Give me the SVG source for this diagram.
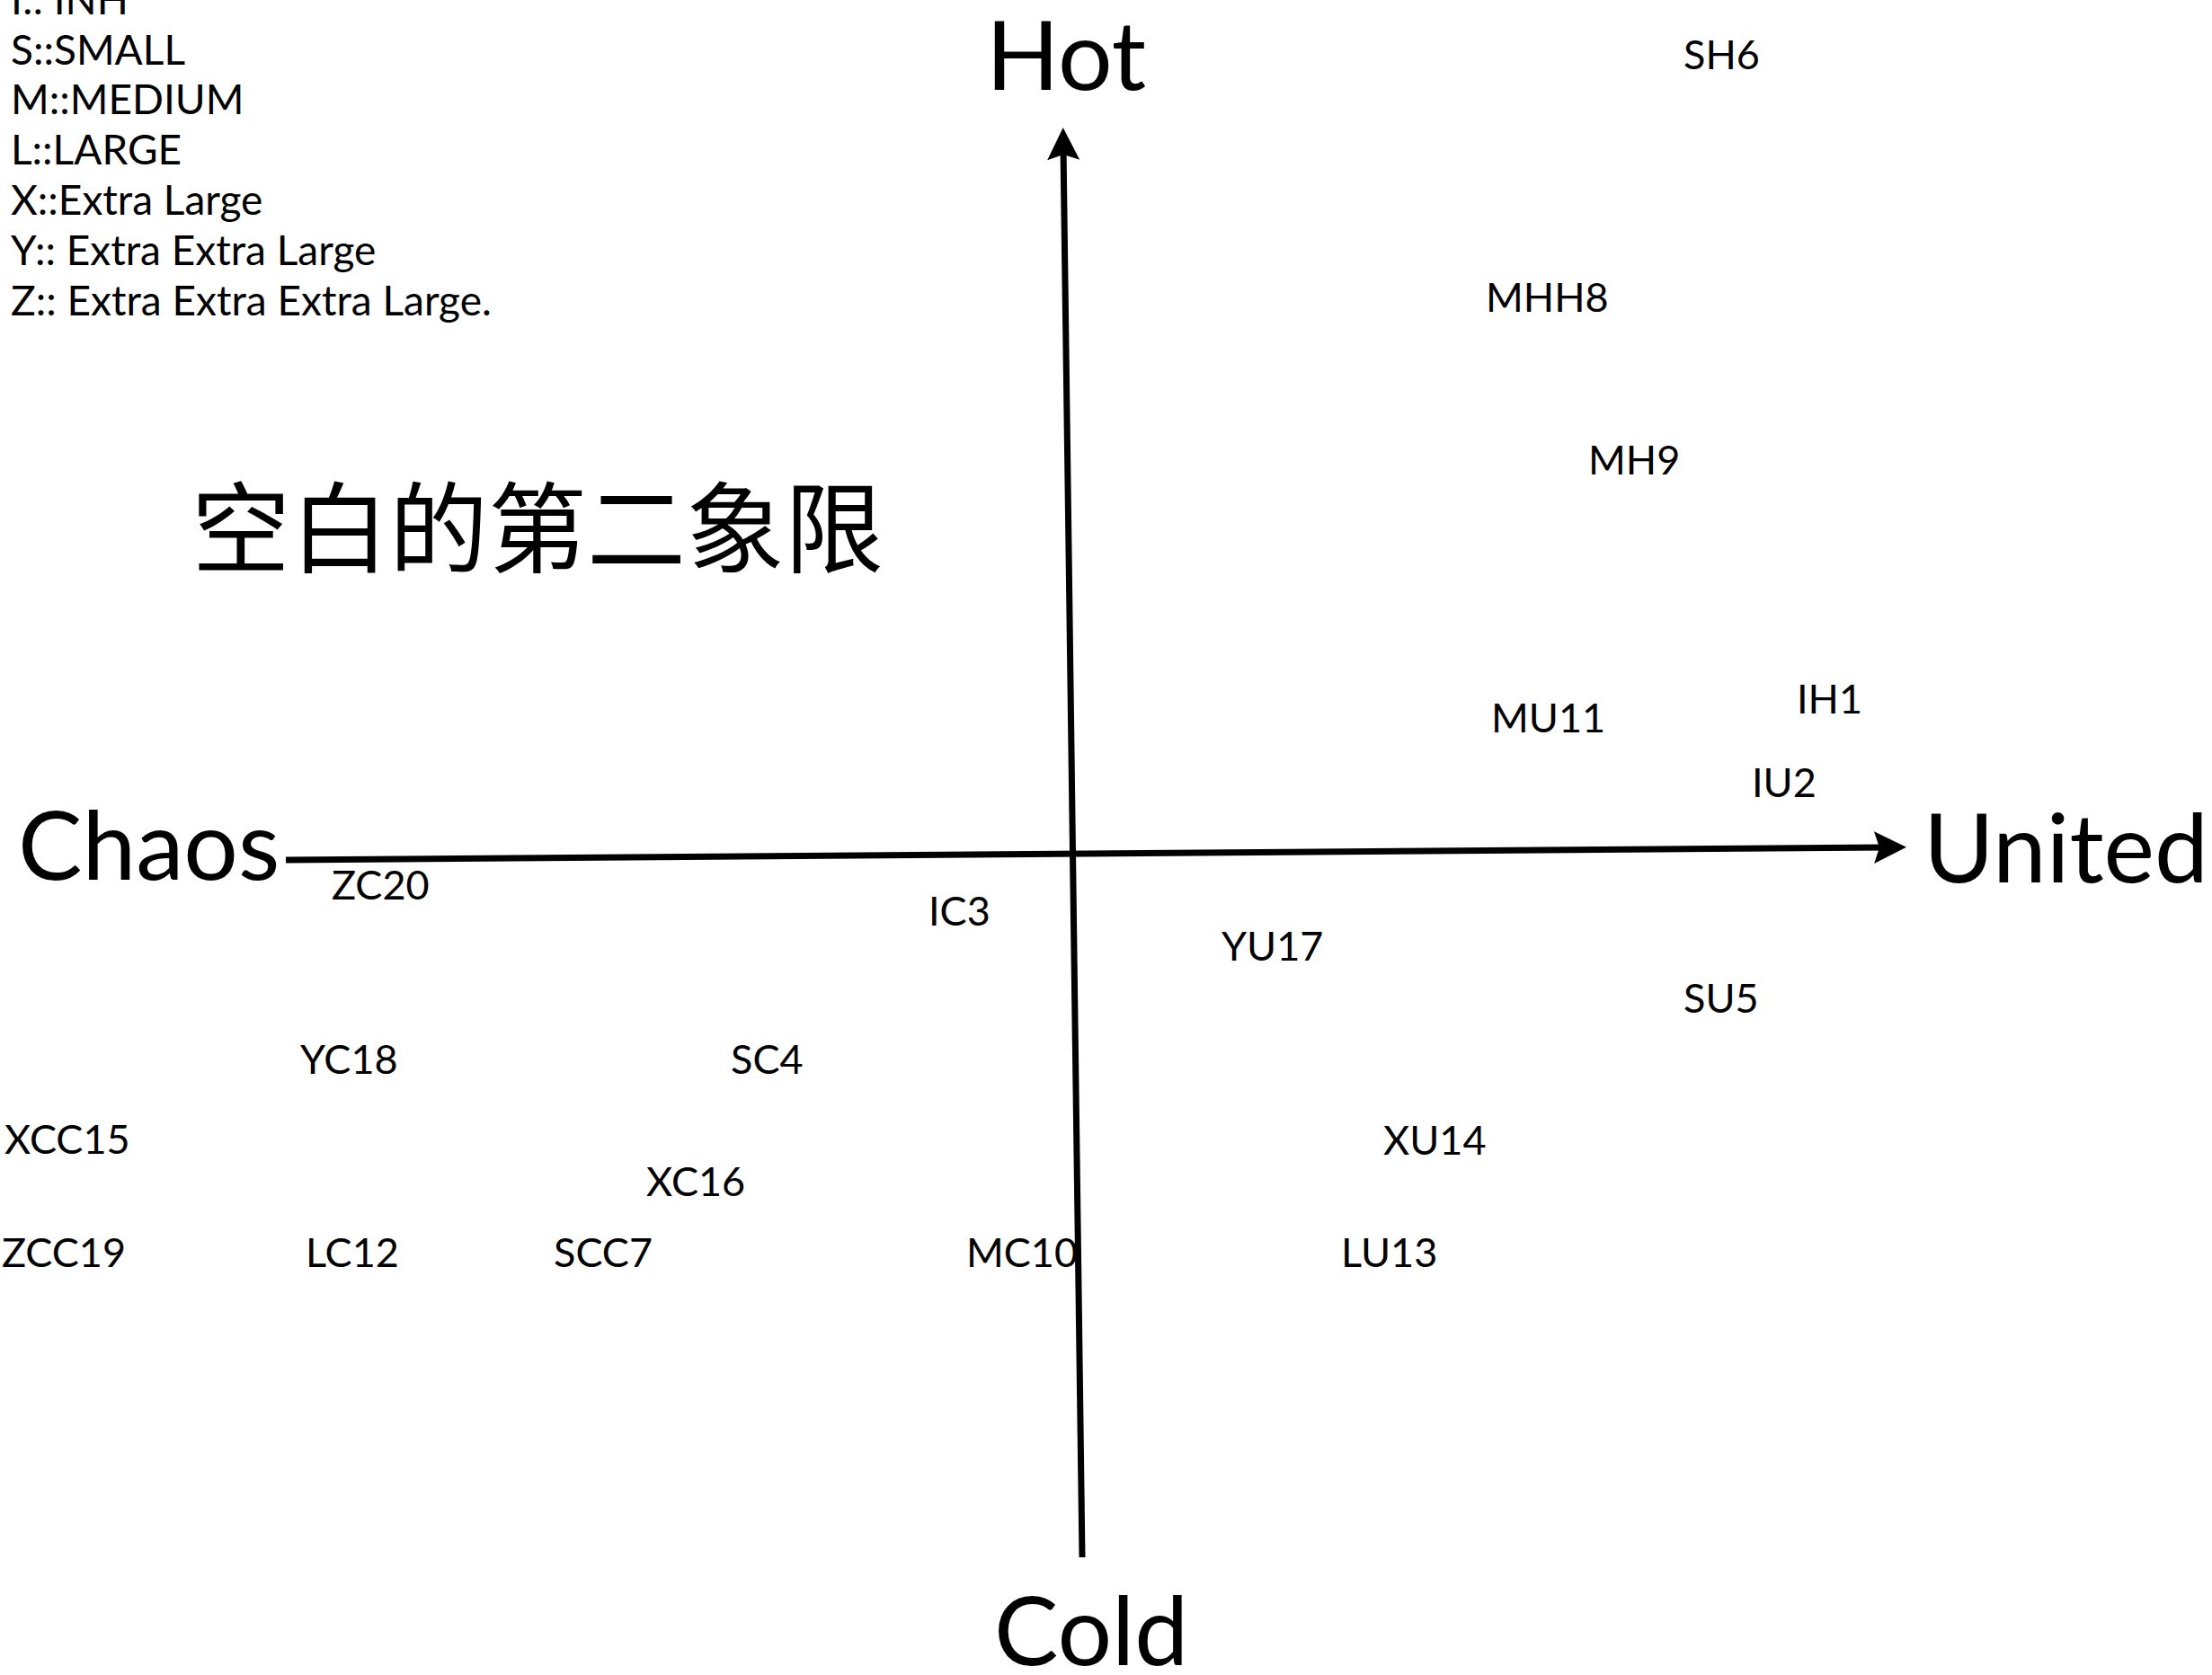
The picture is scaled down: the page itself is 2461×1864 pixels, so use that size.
<svg xmlns="http://www.w3.org/2000/svg" width="2461" height="1864" viewBox="0 0 2461 1864">
  <style>
    .bg { fill: #ffffff; }
    .lbl { font-family: Lato, "Liberation Sans", sans-serif; font-size: 45px; fill: #000; }
    .leg { font-family: Lato, "Liberation Sans", sans-serif; font-size: 46px; fill: #000; }
    .axis-t { font-family: Lato, "Liberation Sans", sans-serif; font-size: 107px; fill: #000; }
    .cjk { font-family: "Noto Sans CJK SC", "Noto Sans CJK TC", sans-serif; font-size: 110px; fill: #000; }
    .axis { stroke: #000; stroke-width: 7; fill: none; marker-end: url(#arrow); }
  </style>
  <defs>
    <marker id="arrow" markerUnits="userSpaceOnUse" markerWidth="40" markerHeight="40" viewBox="0 -20 40 40" refX="15" refY="0" orient="auto">
      <path d="M0,-18 L36,0 L0,18 L6,0 Z" fill="#000"/>
    </marker>
  </defs>
  <rect class="bg" x="0" y="0" width="2461" height="1864"/>

  <g id="legend">
    <text class="leg" x="12" y="16">I:: INH</text>
    <text class="leg" x="12" y="72">S::SMALL</text>
    <text class="leg" x="12" y="127">M::MEDIUM</text>
    <text class="leg" x="12" y="183">L::LARGE</text>
    <text class="leg" x="12" y="239">X::Extra Large</text>
    <text class="leg" x="12" y="295">Y:: Extra Extra Large</text>
    <text class="leg" x="12" y="351">Z:: Extra Extra Extra Large.</text>
  </g>

  <g id="connectors">
    <path id="axis-x" class="axis" d="M318,957 L2100,943"/>
    <path id="axis-y" class="axis" d="M1204,1733 L1183,163"/>
  </g>

  <g id="axis-labels">
    <g id="hot"><text class="axis-t" x="1097" y="100">Hot</text></g>
    <g id="cold"><text class="axis-t" x="1106" y="1853">Cold</text></g>
    <g id="chaos"><text class="axis-t" x="20" y="979">Chaos</text></g>
    <g id="united"><text class="axis-t" x="2140" y="982">United</text></g>
  </g>

  <g id="quadrant-note"><text class="cjk" x="213" y="629">空白的第二象限</text></g>

  <g id="points">
    <g id="SH6"><text class="lbl" x="1873" y="77">SH6</text></g>
    <g id="MHH8"><text class="lbl" x="1653" y="347">MHH8</text></g>
    <g id="MH9"><text class="lbl" x="1767" y="528">MH9</text></g>
    <g id="IH1"><text class="lbl" x="1999" y="794">IH1</text></g>
    <g id="MU11"><text class="lbl" x="1659" y="815">MU11</text></g>
    <g id="IU2"><text class="lbl" x="1949" y="887">IU2</text></g>
    <g id="ZC20"><text class="lbl" x="369" y="1001">ZC20</text></g>
    <g id="IC3"><text class="lbl" x="1033" y="1030">IC3</text></g>
    <g id="YU17"><text class="lbl" x="1359" y="1069">YU17</text></g>
    <g id="SU5"><text class="lbl" x="1873" y="1127">SU5</text></g>
    <g id="YC18"><text class="lbl" x="334" y="1195">YC18</text></g>
    <g id="SC4"><text class="lbl" x="813" y="1195">SC4</text></g>
    <g id="XCC15"><text class="lbl" x="5" y="1284">XCC15</text></g>
    <g id="XU14"><text class="lbl" x="1539" y="1285">XU14</text></g>
    <g id="XC16"><text class="lbl" x="719" y="1331">XC16</text></g>
    <g id="ZCC19"><text class="lbl" x="2" y="1410">ZCC19</text></g>
    <g id="LC12"><text class="lbl" x="340" y="1410">LC12</text></g>
    <g id="SCC7"><text class="lbl" x="616" y="1410">SCC7</text></g>
    <g id="MC10"><text class="lbl" x="1075" y="1410">MC10</text></g>
    <g id="LU13"><text class="lbl" x="1492" y="1410">LU13</text></g>
  </g>
</svg>
